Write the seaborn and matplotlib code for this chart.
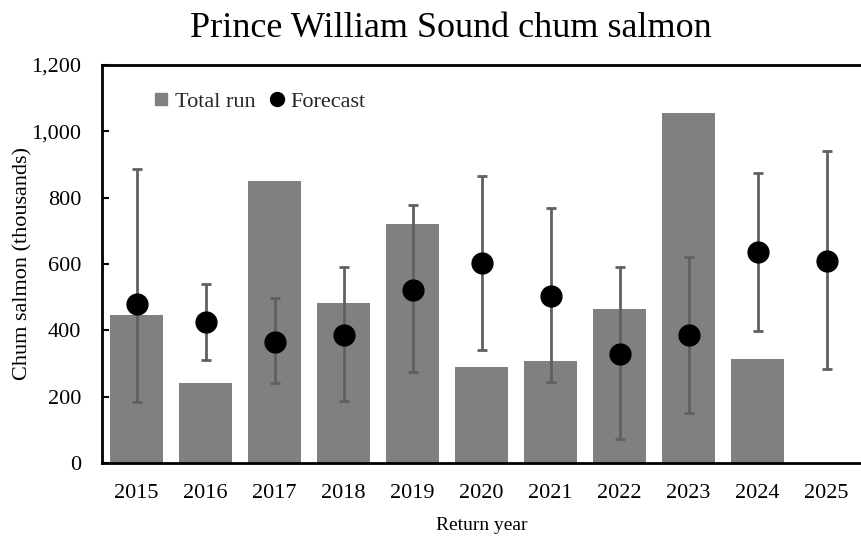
import numpy as np
import pandas as pd
import seaborn as sns
import matplotlib.pyplot as plt
from matplotlib.lines import Line2D
from matplotlib.ticker import FuncFormatter

# values (thousands of fish)
years = ['2015', '2016', '2017', '2018', '2019', '2020', '2021', '2022', '2023', '2024', '2025']
total_run = [447, 240, 851, 481, 720, 288, 308, 463, 1056, 312, np.nan]
forecast = [480, 424, 366, 385, 522, 602, 503, 329, 385, 635, 608]
fc_high = [887, 538, 497, 592, 777, 864, 769, 591, 622, 875, 940]
fc_low = [184, 309, 241, 188, 274, 339, 244, 71, 150, 399, 282]

df = pd.DataFrame({'year': years, 'run': total_run, 'fc': forecast,
                   'hi': fc_high, 'lo': fc_low})

sns.set_theme(style='white')
plt.rcParams['font.family'] = ['Liberation Serif', 'DejaVu Serif']

fig = plt.figure(figsize=(8.61, 5.37), dpi=100)
ax = fig.add_axes([0.1185, 0.138, 0.8815, 0.741])

sns.barplot(data=df, x='year', y='run', color='#808080', saturation=1,
            width=0.78, linewidth=0, ax=ax)

# forecast points with their range
pos = np.arange(len(years))
yerr = [df['fc'] - df['lo'], df['hi'] - df['fc']]
ax.errorbar(pos, df['fc'], yerr=yerr, fmt='none', ecolor='#606060',
            elinewidth=2, capsize=3.8, capthick=2, zorder=3)
ax.plot(pos, df['fc'], 'o', color='black', markersize=15, zorder=4)

ax.set_xlim(-0.5, 10.5)
ax.set_ylim(0, 1200)
ax.set_yticks(range(0, 1201, 200))
ax.yaxis.set_major_formatter(FuncFormatter(lambda v, p: f'{int(v):,}'))
ax.tick_params(axis='y', direction='in', length=5, width=1.5, labelsize=16,
               left=True, pad=15, colors='black')
ax.tick_params(axis='x', length=0, labelsize=16, pad=15, colors='black')

for s in ['left', 'bottom', 'top']:
    ax.spines[s].set_color('black')
    ax.spines[s].set_linewidth(2)
ax.spines['right'].set_visible(False)

ax.set_xlabel('Return year', fontsize=14, labelpad=10, color='black')
ax.set_ylabel('Chum salmon (thousands)', fontsize=16, labelpad=-1, color='black')

fig.text(0.524, 0.947, 'Prince William Sound chum salmon', fontsize=26,
         ha='center', va='center', color='black')

handles = [Line2D([], [], marker='s', linestyle='none', color='#808080', markersize=8),
           Line2D([], [], marker='o', linestyle='none', color='black', markersize=10)]
ax.legend(handles, ['Total run', 'Forecast'], loc='center left',
          bbox_to_anchor=(0.04, 0.908), ncol=2, frameon=False, fontsize=16,
          handlelength=0.8, handletextpad=0.2, columnspacing=0.6)

fig.savefig('out.png', dpi=100)
